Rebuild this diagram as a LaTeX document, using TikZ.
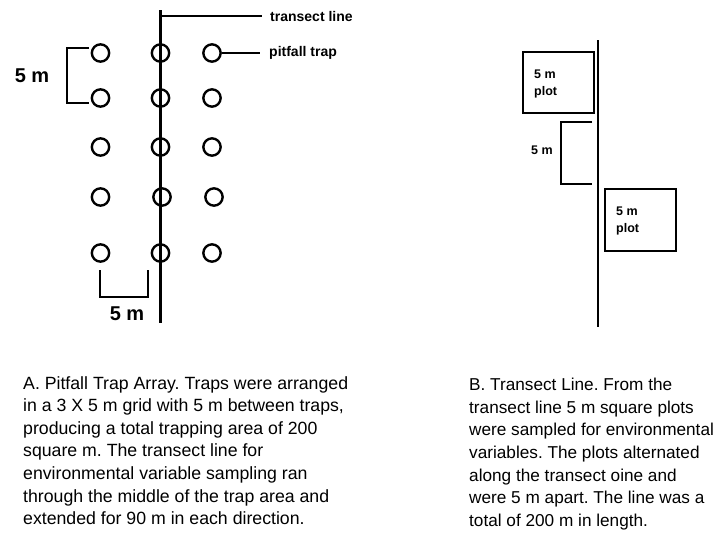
\documentclass[tikz,border=0pt]{standalone}
\usepackage{fontspec}
\setmainfont{Liberation Sans}
\begin{document}
\frenchspacing
\begin{tikzpicture}[x=1pt,y=-1pt,
  trap/.style={circle,draw,line width=2.4pt,minimum size=17.3pt,inner sep=0pt},
  ln/.style={line width=2.4pt},
  lbl/.style={font=\bfseries\fontsize{14}{16}\selectfont,inner sep=0pt,anchor=west},
  big/.style={font=\bfseries\fontsize{20}{22}\selectfont,inner sep=0pt},
  plotlbl/.style={font=\bfseries\fontsize{12.5}{17}\selectfont,inner sep=0pt,align=left,anchor=west},
  captext/.style={font=\fontsize{17.7}{22.6}\selectfont,inner sep=0pt,align=left,anchor=north west},
  captextb/.style={font=\fontsize{17.2}{22.6}\selectfont,inner sep=0pt,align=left,anchor=north west}]
\useasboundingbox[fill=white] (0,0) rectangle (720,533);
% ---------- Panel A ----------
\foreach \r/\y/\mx/\rx in {1/53/160.5/212,2/98/160.5/212,3/147/160.5/212,4/197/162/214,5/253/160.5/212}{
  \node[trap] (L\r) at (100.5,\y) {};
  \node[trap] (M\r) at (\mx,\y) {};
  \node[trap] (R\r) at (\rx,\y) {};
}
\coordinate (ttop) at (160.5,10);
\coordinate (tbot) at (160.5,323);
\coordinate (tlend) at (262,16);
\draw[ln] (ttop) -- (tbot);
\draw[ln] (160.5,16) -- (tlend);
\node[lbl] (tl) at (270,16) {transect line};
\coordinate (pend) at (260,53);
\draw[ln] (R1.east) -- (pend);
\node[lbl] (pt) at (269,53) {pitfall trap};
% left bracket
\coordinate (b1) at (89,48);
\coordinate (b2) at (89,103);
\draw[ln] (b1) -- (67,48) -- (67,103) -- (b2);
\node[big] (m5a) at (32,76) {5 m};
% bottom bracket
\coordinate (c1) at (100,270);
\coordinate (c2) at (148,270);
\draw[ln] (c1) -- (100,297) -- (148,297) -- (c2);
\node[big] (m5b) at (127,314) {5 m};
% ---------- Panel B ----------
\coordinate (btop) at (598,40);
\coordinate (bbot) at (598,327);
\draw[ln] (btop) -- (bbot);
\node[draw,line width=2.4pt,minimum width=71pt,minimum height=61pt,inner sep=0pt] (p1) at (558.5,82.5) {};
\node[plotlbl] (p1t) at (534,83.5) {5 m\\plot};
\coordinate (d1) at (592,122);
\coordinate (d2) at (592,184);
\draw[ln] (d1) -- (561,122) -- (561,184) -- (d2);
\node[font=\bfseries\fontsize{12.5}{14}\selectfont,inner sep=0pt] (m5c) at (542,150) {5 m};
\node[draw,line width=2.4pt,minimum width=71pt,minimum height=62pt,inner sep=0pt] (p2) at (640.5,220) {};
\node[plotlbl] (p2t) at (616,221) {5 m\\plot};
% ---------- Captions ----------
\node[captext] (capA) at (23,376) {A. Pitfall Trap Array. Traps were arranged\\
in a 3 X 5 m grid with 5 m between traps,\\
producing a total trapping area of 200\\
square m. The transect line for\\
environmental variable sampling ran\\
through the middle of the trap area and\\
extended for 90 m in each direction.};
\node[captextb] (capB) at (469,378) {B. Transect Line. From the\\
transect line 5 m square plots\\
were sampled for environmental\\
variables. The plots alternated\\
along the transect oine and\\
were 5 m apart. The line was a\\
total of 200 m in length.};
\end{tikzpicture}
\end{document}
